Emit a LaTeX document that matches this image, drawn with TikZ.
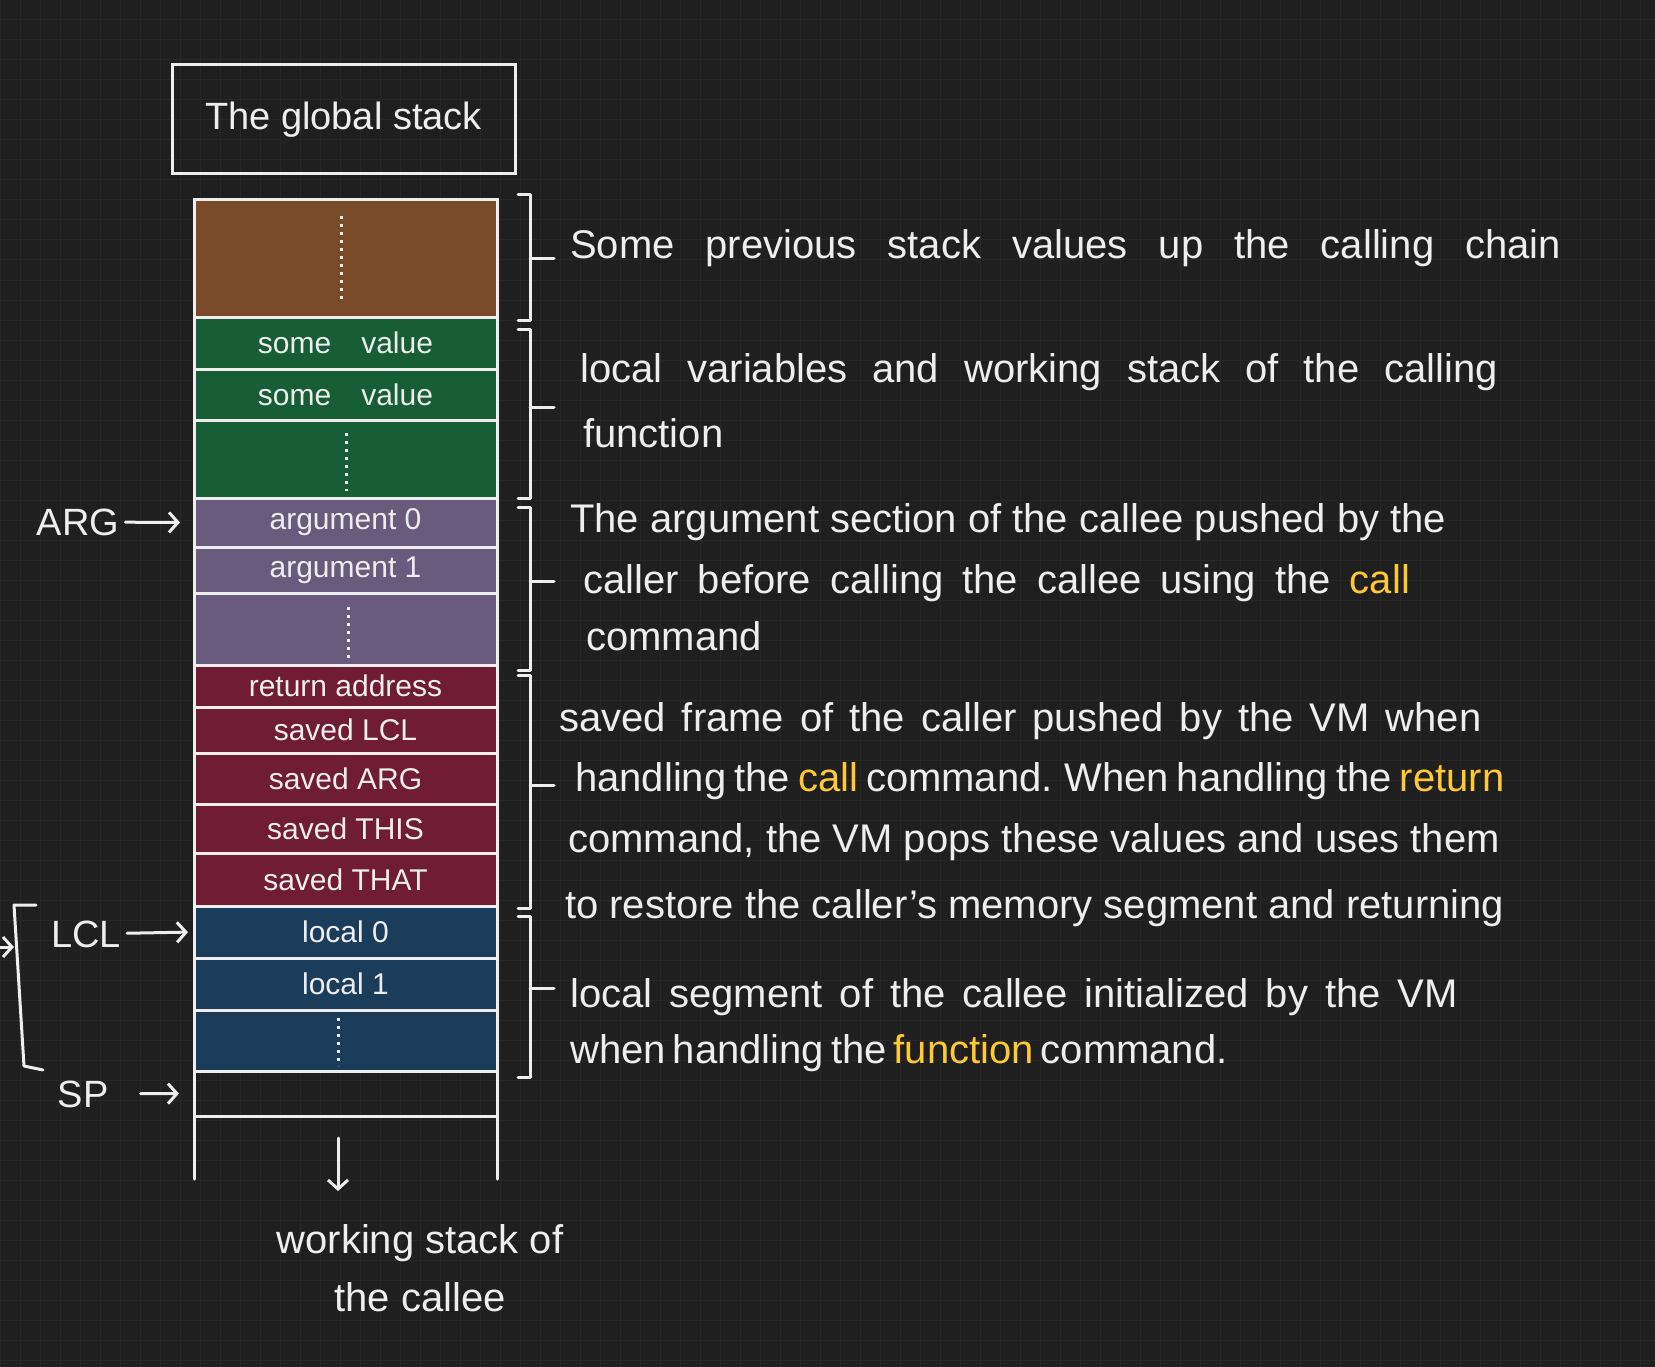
\documentclass[tikz,border=0pt]{standalone}
\usepackage{fontspec}
\setmainfont{Liberation Sans}
\usetikzlibrary{arrows.meta,calc}

\definecolor{board}{RGB}{31,31,31}
\definecolor{gridc}{RGB}{39,39,39}
\definecolor{ink}{RGB}{238,238,238}
\definecolor{prevc}{RGB}{122,75,41}
\definecolor{callerc}{RGB}{23,93,53}
\definecolor{argc}{RGB}{104,91,125}
\definecolor{framec}{RGB}{112,28,52}
\definecolor{localc}{RGB}{27,61,92}
\definecolor{kw}{RGB}{255,201,51}

\tikzset{
  cell/.style={draw=ink, line width=3pt, rectangle, minimum width=303pt, inner sep=0pt, outer sep=0pt, text=ink, font=\fontsize{30}{36}\selectfont},
  note/.style={anchor=west, text=ink, inner sep=0pt, font=\fontsize{40}{48}\selectfont},
  wordgap/.style={execute at begin node={\spaceskip=#1\relax}},
  tag/.style={text=ink, inner sep=0pt, font=\fontsize{38}{44}\selectfont},
  pointer/.style={draw=ink, line width=3pt, line cap=round, -{Straight Barb[length=9pt,width=20pt,line width=3pt]}},
  bracket/.style={draw=ink, line width=3pt, line cap=round, line join=round},
  dots/.style={draw=ink, line width=3pt, dash pattern=on 3pt off 5pt},
}

\begin{document}
\begin{tikzpicture}[x=1pt,y=1pt,yscale=-1,xscale=1]
\useasboundingbox (0,0) rectangle (1655,1367);
\fill[board] (0,0) rectangle (1655,1367);
\draw[gridc, line width=1pt, step=20] (0,0) grid (1655,1367);

%Shape: Rectangle [title]
\node[tag, draw=ink, line width=3pt, minimum width=343pt, minimum height=109pt] (title) at (343.5,119.5) {The global stack};

%Shape: Rectangle [previous frames]
\node[cell, fill=prevc, minimum height=117pt] (prev) at (345.5,258.5) {};
%Shape: Rectangle [caller working stack]
\node[cell, fill=callerc, minimum height=52pt] (valuea) at (345.5,343) {some\quad value};
\node[cell, fill=callerc, minimum height=51pt] (valueb) at (345.5,394.5) {some\quad value};
\node[cell, fill=callerc, minimum height=78pt] (valuedots) at (345.5,459) {};
%Shape: Rectangle [arguments]
\node[cell, fill=argc, minimum height=49pt] (arga) at (345.5,522.5) {argument 0};
\node[cell, fill=argc, minimum height=46pt] (argb) at (345.5,570) {argument 1};
\node[cell, fill=argc, minimum height=72pt] (argdots) at (345.5,629) {};
%Shape: Rectangle [saved frame]
\node[cell, fill=framec, minimum height=42pt] (retaddr) at (345.5,686) {return address};
\node[cell, fill=framec, minimum height=46pt] (savedlcl) at (345.5,730) {saved LCL};
\node[cell, fill=framec, minimum height=51pt] (savedarg) at (345.5,778.5) {saved ARG};
\node[cell, fill=framec, minimum height=49pt] (savedthis) at (345.5,828.5) {saved THIS};
\node[cell, fill=framec, minimum height=53pt] (savedthat) at (345.5,879.5) {saved THAT};
%Shape: Rectangle [locals]
\node[cell, fill=localc, minimum height=52pt] (loca) at (345.5,932) {local 0};
\node[cell, fill=localc, minimum height=52pt] (locb) at (345.5,984) {local 1};
\node[cell, fill=localc, minimum height=61pt] (locdots) at (345.5,1040.5) {};
%Shape: Rectangle [top of stack]
\node[cell, minimum height=45pt] (top) at (345.5,1093.5) {};
\draw[bracket] (top.south west) -- ++(0,63);
\draw[bracket] (top.south east) -- ++(0,63);

%Dotted Lines
\draw[dots] (341,216) -- (341,301);
\draw[dots] (346,433) -- (346,491);
\draw[dots] (348,607) -- (348,660);
\draw[dots] (338,1018) -- (338,1066);

%Braces
\draw[bracket] ($(prev.north east)+(21,-5)$) -- ++(12,0) -- ($(prev.south east)+(33,3)$) -- ++(-12,0);
\draw[bracket] ($(prev.north east)!0.5!(prev.south east)+(33,0)$) -- ++(24,0);
\draw[bracket] ($(valuea.north east)+(21,12)$) -- ++(12,0) -- ($(valuedots.south east)+(33,0)$) -- ++(-12,0);
\draw[bracket] ($(valuea.north east)!0.5!(valuedots.south east)+(33,0)$) -- ++(24,0);
\draw[bracket] ($(arga.north east)+(21,9)$) -- ++(12,0) -- ($(argdots.south east)+(33,5)$) -- ++(-12,0);
\draw[bracket] ($(arga.north east)!0.5!(argdots.south east)+(33,0)$) -- ++(24,0);
\draw[bracket] ($(retaddr.north east)+(21,10)$) -- ++(12,0) -- ($(savedthat.south east)+(33,2)$) -- ++(-12,0);
\draw[bracket] ($(retaddr.north east)!0.5!(savedthat.south east)+(33,0)$) -- ++(24,0);
\draw[bracket] ($(loca.north east)+(21,10)$) -- ++(12,0) -- ($(locdots.south east)+(33,6)$) -- ++(-12,0);
\draw[bracket] ($(loca.north east)!0.5!(locdots.south east)+(33,0)$) -- ++(24,0);

% Text Node
\node[note, wordgap=31pt] (prevnote) at (570,248) {Some previous stack values up the calling chain};
% Text Node
\node[note, wordgap=25pt] (callernote) at (580,372) {local variables and working stack of the calling};
\node[note] (callernoteb) at (583,433) {function};
% Text Node
\node[note] (argnote) at (570,522) {The argument section of the callee pushed by the};
\node[note, wordgap=19pt] (argnoteb) at (583,583) {caller before calling the callee using the \textcolor{kw}{call}};
\node[note] (argnotec) at (586,636) {command};
% Text Node
\node[note, wordgap=16pt] (framenote) at (559,721) {saved frame of the caller pushed by the VM when};
\node[note, wordgap=8pt] (framenoteb) at (575,781) {handling the \textcolor{kw}{call} command. When handling the \textcolor{kw}{return}};
\node[note] (framenotec) at (568,842) {command, the VM pops these values and uses them};
\node[note] (framenoted) at (565,908) {to restore the caller's memory segment and returning};
% Text Node
\node[note, wordgap=17pt] (localnote) at (570,997) {local segment of the callee initialized by the VM};
\node[note, wordgap=7pt] (localnoteb) at (570,1053) {when handling the \textcolor{kw}{function} command.};

%Pointers
\node[tag] (argptr) at (78,522) {ARG};
\draw[pointer, shorten <=6pt, shorten >=14pt] (argptr) -- (arga.west);
\node[tag] (lclptr) at (86,934) {LCL};
\draw[pointer, shorten <=6pt, shorten >=6pt] (lclptr) -- (loca.west);
\node[tag] (spptr) at (83,1094) {SP};
\draw[pointer, shorten <=32pt, shorten >=15pt] (spptr) -- (top.west);
\draw[bracket] (36,905) -- (14,905) -- (24,1066) -- (43,1070);
\coordinate (offleft) at (-30,947);
\draw[pointer] (offleft) -- (14,947);

%Growth
\coordinate (growth) at (338,1138);
\coordinate (growthend) at (338,1191);
\draw[pointer] (growth) -- (growthend);
\node[tag, align=center, font=\fontsize{40}{58}\selectfont] (wstack) at (420,1268) {working stack of\\the callee};
\end{tikzpicture}
\end{document}
